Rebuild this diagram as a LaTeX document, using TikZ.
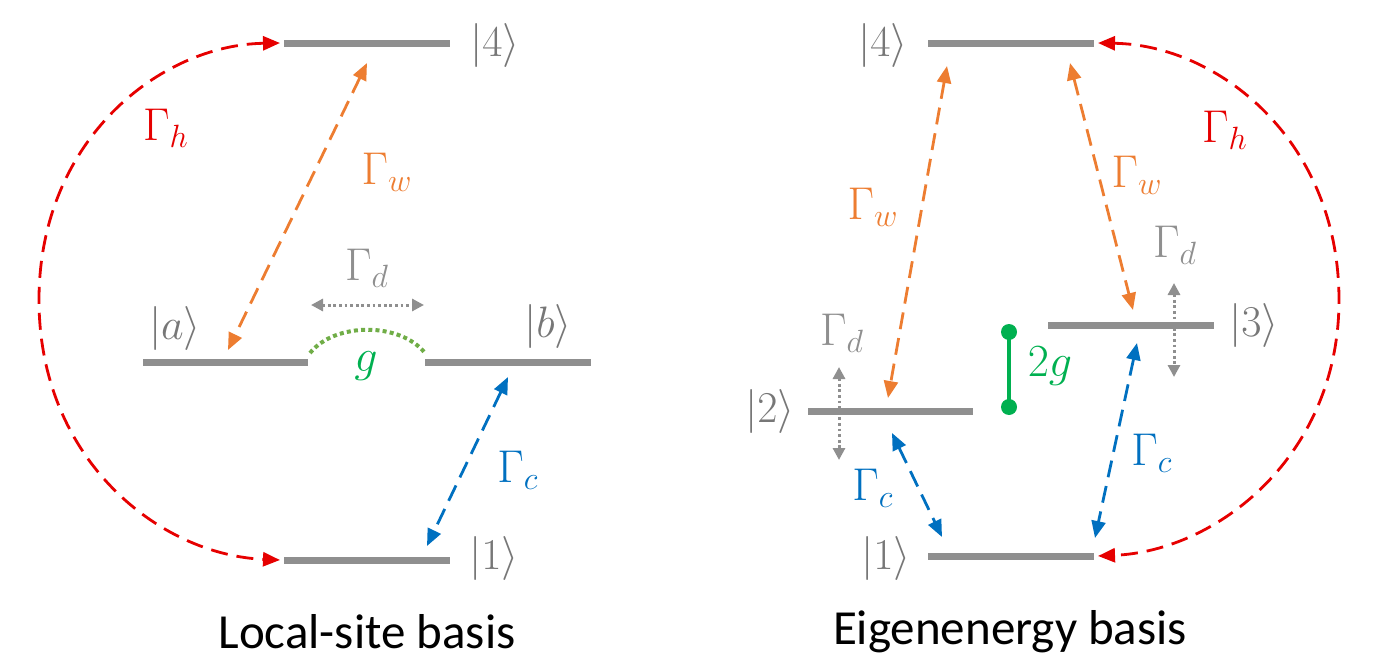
\RequirePackage{fix-cm}
\documentclass[tikz,border=0pt]{standalone}
\usepackage{fontspec}
\setmainfont{Carlito}
\usetikzlibrary{arrows.meta}
\definecolor{lvgray}{HTML}{8F8F8F}
\definecolor{kgray}{HTML}{777777}
\definecolor{hred}{HTML}{E60000}
\definecolor{worange}{HTML}{ED7D31}
\definecolor{cblue}{HTML}{0070C0}
\definecolor{ggreen}{HTML}{00B050}
\definecolor{garc}{HTML}{70AD47}
\begin{document}
\begin{tikzpicture}[x=0.5pt,y=-0.5pt,
  level/.style={line width=3.5pt,draw=lvgray},
  trans/.style={line width=1.4pt,dash pattern=on 8.5pt off 4.5pt,
    {Triangle[length=8.5pt,width=7pt]}-{Triangle[length=8.5pt,width=7pt]}},
  deph/.style={line width=1.5pt,draw=lvgray,dash pattern=on 1.4pt off 1.4pt,
    {Triangle[length=6pt,width=6pt]}-{Triangle[length=6pt,width=6pt]}},
  ket/.style={text=kgray,font=\fontsize{22}{25}\selectfont,inner sep=0pt},
  rate/.style={font=\fontsize{23}{27}\selectfont,inner sep=0pt},
  caption/.style={font=\fontsize{24.5}{29}\selectfont,inner sep=0pt,text=black}]
\useasboundingbox (0,0) rectangle (1378,669);

% ---------- Left panel: local-site basis ----------
\coordinate (L4a) at (284,43);  \coordinate (L4b) at (450,43);
\coordinate (Laa) at (143,362); \coordinate (Lab) at (308,362);
\coordinate (Lba) at (425,362); \coordinate (Lbb) at (591,362);
\coordinate (L1a) at (284,560); \coordinate (L1b) at (450,560);
\draw[level] (L4a) -- (L4b);
\draw[level] (Laa) -- (Lab);
\draw[level] (Lba) -- (Lbb);
\draw[level] (L1a) -- (L1b);

\node[ket] (k4L) at (495,45) {$|4\rangle$};
\node[ket] (kaL) at (175,328) {$|a\rangle$};
\node[ket] (kbL) at (548,326) {$|b\rangle$};
\node[ket] (k1L) at (494,558) {$|1\rangle$};

% hot bath
\coordinate (hL4) at (280,43);
\coordinate (hL1) at (280,560);
\draw[trans,hred] (hL4) .. controls (160,45) and (39,140) .. (39,300)
  .. controls (39,460) and (160,555) .. (hL1);
\node[rate,text=hred] (GhL) at (166,128) {$\Gamma_h$};

% work bath
\coordinate (wL4) at (367,63);
\coordinate (wLa) at (228,350);
\draw[trans,worange] (wL4) -- (wLa);
\node[rate,text=worange] (GwL) at (387,172) {$\Gamma_w$};

% cold bath
\coordinate (cLb) at (508,377);
\coordinate (cL1) at (427,546);
\draw[trans,cblue] (cLb) -- (cL1);
\node[rate,text=cblue] (GcL) at (518,470) {$\Gamma_c$};

% dephasing
\coordinate (dLa) at (311,305);
\coordinate (dLb) at (424,305);
\draw[deph] (dLa) -- (dLb);
\node[rate,text=lvgray] (GdL) at (367,268) {$\Gamma_d$};

% coupling
\coordinate (gLa) at (310,353);
\coordinate (gLb) at (425,353);
\draw[garc,line width=2pt,dash pattern=on 2pt off 1.6pt] (gLa) .. controls (335,322) and (400,322) .. (gLb);
\node[rate,text=ggreen] (gL) at (366,366) {$g$};

\node[caption] (capL) at (367,632) {Local-site basis};

% ---------- Right panel: eigenenergy basis ----------
\coordinate (R4a) at (928,43);   \coordinate (R4b) at (1094,43);
\coordinate (R3a) at (1048,325); \coordinate (R3b) at (1214,325);
\coordinate (R2a) at (808,411);  \coordinate (R2b) at (973,411);
\coordinate (R1a) at (928,556);  \coordinate (R1b) at (1094,556);
\draw[level] (R4a) -- (R4b);
\draw[level] (R3a) -- (R3b);
\draw[level] (R2a) -- (R2b);
\draw[level] (R1a) -- (R1b);

\node[ket] (k4R) at (883,45) {$|4\rangle$};
\node[ket] (k3R) at (1254,325) {$|3\rangle$};
\node[ket] (k2R) at (770,411) {$|2\rangle$};
\node[ket] (k1R) at (886,558) {$|1\rangle$};

% hot bath
\coordinate (hR4) at (1098,43);
\coordinate (hR1) at (1098,556);
\draw[trans,hred] (hR4) .. controls (1218,45) and (1339,140) .. (1339,300)
  .. controls (1339,455) and (1218,551) .. (hR1);
\node[rate,text=hred] (GhR) at (1225,130) {$\Gamma_h$};

% work bath
\coordinate (wR4a) at (947,66);
\coordinate (wR2) at (888,398);
\draw[trans,worange] (wR4a) -- (wR2);
\node[rate,text=worange] (GwR1) at (873,207) {$\Gamma_w$};
\coordinate (wR4b) at (1070,63);
\coordinate (wR3) at (1133,310);
\draw[trans,worange] (wR4b) -- (wR3);
\node[rate,text=worange] (GwR2) at (1137,175) {$\Gamma_w$};

% cold bath
\coordinate (cR2) at (892,433);
\coordinate (cR1a) at (942,537);
\draw[trans,cblue] (cR2) -- (cR1a);
\node[rate,text=cblue] (GcR1) at (873,488) {$\Gamma_c$};
\coordinate (cR3) at (1137,343);
\coordinate (cR1b) at (1095,538);
\draw[trans,cblue] (cR3) -- (cR1b);
\node[rate,text=cblue] (GcR2) at (1152,453) {$\Gamma_c$};

% dephasing
\coordinate (dR3a) at (1174,283);
\coordinate (dR3b) at (1174,377);
\draw[deph] (dR3a) -- (dR3b);
\node[rate,text=lvgray] (GdR3) at (1175,245) {$\Gamma_d$};
\coordinate (dR2a) at (839,367);
\coordinate (dR2b) at (839,460);
\draw[deph] (dR2a) -- (dR2b);
\node[rate,text=lvgray] (GdR2) at (842,333) {$\Gamma_d$};

% splitting 2g
\coordinate (sA) at (1009,332);
\coordinate (sB) at (1009,407);
\draw[ggreen,line width=1.6pt] (sA) -- (sB);
\fill[ggreen] (sA) circle (8);
\fill[ggreen] (sB) circle (8);
\node[rate,text=ggreen] (gR) at (1050,366) {$2g$};

\node[caption] (capR) at (1010,632) {Eigenenergy basis};
\end{tikzpicture}
\end{document}
